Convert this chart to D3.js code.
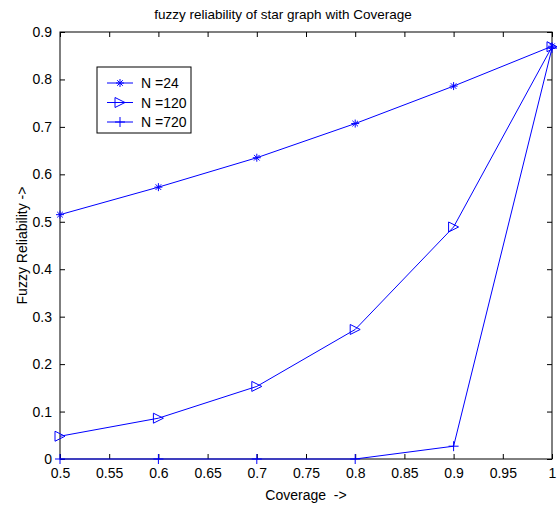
<!DOCTYPE html>
<html>
<head>
<meta charset="utf-8">
<script src="https://cdn.jsdelivr.net/npm/d3@7"></script>
<style>
body { margin: 0; background: #fff; }
text { font-family: "Liberation Sans", Arial, sans-serif; }
</style>
</head>
<body>
<div id="chart"></div>
<script>
var coverage = [0.5, 0.6, 0.7, 0.8, 0.9, 1.0];
var n24 = [0.515, 0.573, 0.635, 0.707, 0.786, 0.870];
var n120 = [0.048, 0.086, 0.153, 0.273, 0.489, 0.869];
var n720 = [0, 0, 0, 0, 0.027, 0.866];
var seriesNames = ["N =24", "N =120", "N =720"];
var xTicks = [0.5, 0.55, 0.6, 0.65, 0.7, 0.75, 0.8, 0.85, 0.9, 0.95, 1];
var yTicks = [0, 0.1, 0.2, 0.3, 0.4, 0.5, 0.6, 0.7, 0.8, 0.9];

var width = 557, height = 506;
var plotLeft = 60, plotRight = 552, plotTop = 32, plotBottom = 459;
var lineColor = "#0000ff";
var fontSize = 14;

var svg = d3.select("#chart").append("svg")
    .attr("width", width)
    .attr("height", height);

var x = d3.scaleLinear().domain([0.5, 1]).range([plotLeft, plotRight]);
var y = d3.scaleLinear().domain([0, 0.9]).range([plotBottom, plotTop]);

// axes, ticks inward on all sides
svg.append("g").attr("transform", "translate(0," + plotBottom + ")")
    .call(d3.axisBottom(x).tickValues(xTicks).tickSize(-5).tickPadding(9).tickFormat(d3.format("")))
    .call(function(g){ g.select(".domain").remove(); });
svg.append("g").attr("transform", "translate(0," + plotTop + ")")
    .call(d3.axisTop(x).tickValues(xTicks).tickSize(-5).tickFormat(""))
    .call(function(g){ g.select(".domain").remove(); });
svg.append("g").attr("transform", "translate(" + plotLeft + ",0)")
    .call(d3.axisLeft(y).tickValues(yTicks).tickSize(-5).tickPadding(8).tickFormat(d3.format("")))
    .call(function(g){ g.select(".domain").remove(); });
svg.append("g").attr("transform", "translate(" + plotRight + ",0)")
    .call(d3.axisRight(y).tickValues(yTicks).tickSize(-5).tickFormat(""))
    .call(function(g){ g.select(".domain").remove(); });

svg.selectAll(".tick text").attr("font-size", fontSize).attr("fill", "#000")
    .style("font-family", "'Liberation Sans', Arial, sans-serif");
svg.selectAll(".tick line").attr("stroke", "#000");

svg.append("rect")
    .attr("x", plotLeft).attr("y", plotTop)
    .attr("width", plotRight - plotLeft).attr("height", plotBottom - plotTop)
    .attr("fill", "none").attr("stroke", "#000").attr("stroke-width", 1);

// markers
function marker(g, type, cx, cy) {
    if (type == "star") {
        var s = 4;
        g.append("path")
            .attr("d", "M" + (cx - s) + "," + cy + "H" + (cx + s) +
                       "M" + cx + "," + (cy - s) + "V" + (cy + s) +
                       "M" + (cx - s * 0.7) + "," + (cy - s * 0.7) + "L" + (cx + s * 0.7) + "," + (cy + s * 0.7) +
                       "M" + (cx - s * 0.7) + "," + (cy + s * 0.7) + "L" + (cx + s * 0.7) + "," + (cy - s * 0.7))
            .attr("stroke", lineColor).attr("fill", "none").attr("stroke-width", 1);
    } else if (type == "tri") {
        var t = 5;
        g.append("path")
            .attr("d", "M" + (cx - t) + "," + (cy - t) + "L" + (cx + t) + "," + cy + "L" + (cx - t) + "," + (cy + t) + "Z")
            .attr("stroke", lineColor).attr("fill", "none").attr("stroke-width", 1);
    } else {
        var p = 5;
        g.append("path")
            .attr("d", "M" + (cx - p) + "," + cy + "H" + (cx + p) + "M" + cx + "," + (cy - p) + "V" + (cy + p))
            .attr("stroke", lineColor).attr("fill", "none").attr("stroke-width", 1);
    }
}

var series = [
    {name: seriesNames[0], values: n24, type: "star"},
    {name: seriesNames[1], values: n120, type: "tri"},
    {name: seriesNames[2], values: n720, type: "plus"}
];

var line = d3.line()
    .x(function(d){ return x(d[0]); })
    .y(function(d){ return y(d[1]); });

series.forEach(function(s){
    var pts = coverage.map(function(c, i){ return [c, s.values[i]]; });
    var g = svg.append("g");
    g.append("path").datum(pts)
        .attr("d", line)
        .attr("fill", "none")
        .attr("stroke", lineColor)
        .attr("stroke-width", 1);
    pts.forEach(function(p){
        marker(g, s.type, x(p[0]), y(p[1]));
    });
});

// legend
var lx = 97, ly = 67, lw = 94, lh = 66;
svg.append("rect")
    .attr("x", lx).attr("y", ly).attr("width", lw).attr("height", lh)
    .attr("fill", "#fff").attr("stroke", "#000").attr("stroke-width", 1);
series.forEach(function(s, i){
    var yy = ly + 16 + i * 19.5;
    var g = svg.append("g");
    g.append("line").attr("x1", lx + 10).attr("x2", lx + 36)
        .attr("y1", yy).attr("y2", yy)
        .attr("stroke", lineColor).attr("stroke-width", 1);
    marker(g, s.type, lx + 23, yy);
    g.append("text").attr("x", lx + 44).attr("y", yy + 5)
        .attr("font-size", fontSize).text(s.name);
});

// titles
svg.append("text").attr("x", (plotLeft + plotRight) / 2 - 23).attr("y", 19)
    .attr("text-anchor", "middle").attr("font-size", 13.5)
    .text("fuzzy reliability of star graph with Coverage");
svg.append("text").attr("x", (plotLeft + plotRight) / 2).attr("y", 500)
    .attr("text-anchor", "middle").attr("font-size", fontSize)
    .attr("xml:space", "preserve")
    .text("Coverage  ->");
svg.append("text")
    .attr("transform", "translate(27," + ((plotTop + plotBottom) / 2) + ") rotate(-90)")
    .attr("text-anchor", "middle").attr("font-size", fontSize)
    .text("Fuzzy Reliability ->");
</script>
</body>
</html>
